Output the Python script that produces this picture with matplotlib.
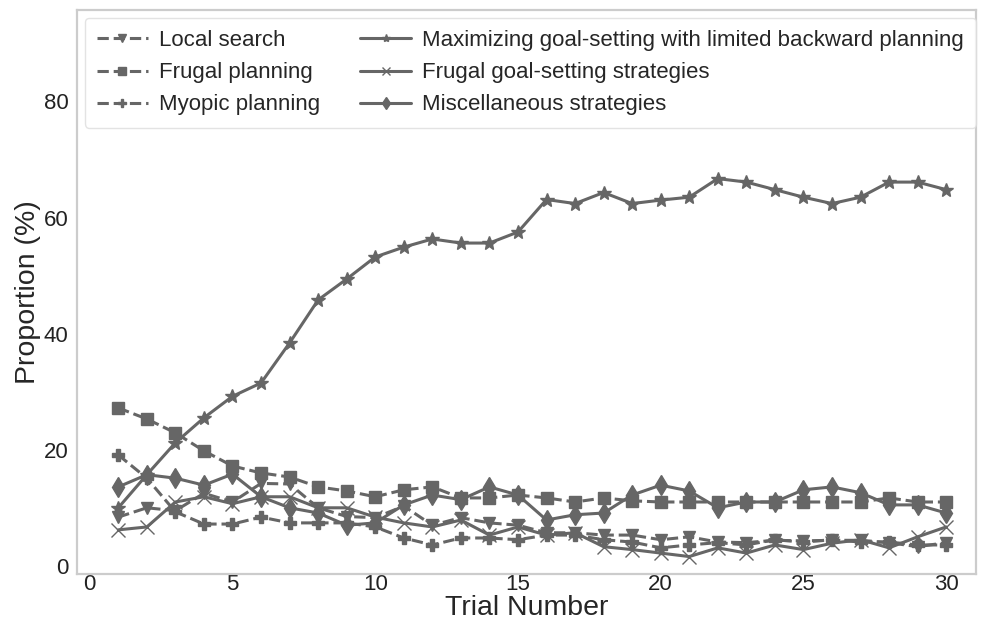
import matplotlib
matplotlib.use("Agg")
import matplotlib.pyplot as plt
import seaborn as sns
import numpy as np

# Proportion of each strategy per trial
trials = np.arange(1, 31)

local_search = [8.4, 10.0, 9.5, 12.5, 11.0, 14.2, 14.1, 10.0, 8.5, 8.3,
                10.3, 7.0, 8.3, 7.4, 7.0, 5.7, 5.7, 5.3, 5.3, 4.5,
                5.0, 4.1, 4.0, 4.4, 4.3, 4.4, 4.4, 4.0, 3.3, 4.0]
frugal_planning = [27.2, 25.3, 22.9, 19.8, 17.2, 16.0, 15.3, 13.6, 12.9, 11.9,
                   13.1, 13.6, 11.7, 11.7, 12.2, 11.7, 11.0, 11.7, 11.2, 11.0,
                   11.0, 11.0, 11.0, 11.0, 11.0, 11.0, 11.0, 11.7, 11.0, 11.0]
myopic_planning = [19.1, 15.1, 9.3, 7.2, 7.2, 8.4, 7.4, 7.4, 7.4, 6.7,
                   4.8, 3.6, 4.8, 4.8, 4.5, 5.3, 5.3, 4.5, 4.1, 3.1,
                   3.6, 4.0, 3.6, 4.5, 4.1, 4.5, 4.1, 4.1, 3.6, 3.6]
maximizing = [10.0, 15.7, 21.2, 25.5, 29.2, 31.5, 38.4, 45.8, 49.4, 53.2,
              54.9, 56.3, 55.6, 55.6, 57.5, 63.1, 62.4, 64.3, 62.4, 63.0,
              63.5, 66.7, 66.1, 64.8, 63.5, 62.4, 63.5, 66.1, 66.1, 64.8]
frugal_goal = [6.2, 6.7, 11.0, 11.9, 10.7, 11.9, 11.9, 10.0, 10.0, 8.4,
               7.4, 6.7, 7.9, 5.3, 6.7, 5.3, 5.7, 3.3, 2.8, 2.2,
               1.6, 3.1, 2.2, 3.6, 2.8, 3.9, 4.5, 3.1, 5.0, 6.7]
misc = [13.6, 15.7, 15.1, 13.9, 15.8, 11.9, 10.0, 9.1, 7.0, 7.4,
        10.5, 12.2, 11.4, 13.6, 12.2, 7.9, 8.8, 9.1, 12.2, 13.9,
        12.9, 10.0, 11.0, 11.0, 13.1, 13.6, 12.6, 10.5, 10.5, 9.1]

sns.set_style("white")
plt.rcParams['font.family'] = ['Liberation Sans', 'DejaVu Sans']
plt.rcParams['axes.edgecolor'] = '#cccccc'
plt.rcParams['axes.linewidth'] = 1.6

col = '#666666'
fig = plt.figure(figsize=(9.86, 6.32), dpi=100)
ax = fig.add_axes([0.078, 0.0918, 0.912, 0.892])

series = [
    (local_search, 'v', '--', 'Local search', 9),
    (frugal_planning, 's', '--', 'Frugal planning', 9),
    (myopic_planning, 'P', '--', 'Myopic planning', 9),
    (maximizing, '*', '-', 'Maximizing goal-setting with limited backward planning', 10),
    (frugal_goal, 'x', '-', 'Frugal goal-setting strategies', 10),
    (misc, 'd', '-', 'Miscellaneous strategies', 10),
]
for vals, mk, ls, lab, ms in series:
    ax.plot(trials, vals, color=col, marker=mk, linestyle=ls, linewidth=2.2,
            markersize=ms, label=lab)

ax.set_xlim(-0.45, 31.05)
ax.set_ylim(-1.4, 95.7)
ax.set_xticks([0, 5, 10, 15, 20, 25, 30])
ax.set_yticks([0, 20, 40, 60, 80])
ax.tick_params(labelsize=16, colors='#222222', length=0)
ax.tick_params(axis='x', pad=0)
ax.tick_params(axis='y', pad=6)
ax.set_xlabel('Trial Number', fontsize=20.5, labelpad=0)
ax.set_ylabel('Proportion (%)', fontsize=20.5, labelpad=2)

ax.legend(loc='upper left', ncol=2, fontsize=16, markerscale=0.6,
          handlelength=2.3, handletextpad=0.5, columnspacing=1.8,
          frameon=True, edgecolor='#dddddd', borderaxespad=0.35,
          borderpad=0.55)

fig.savefig('out.png', dpi=100)
